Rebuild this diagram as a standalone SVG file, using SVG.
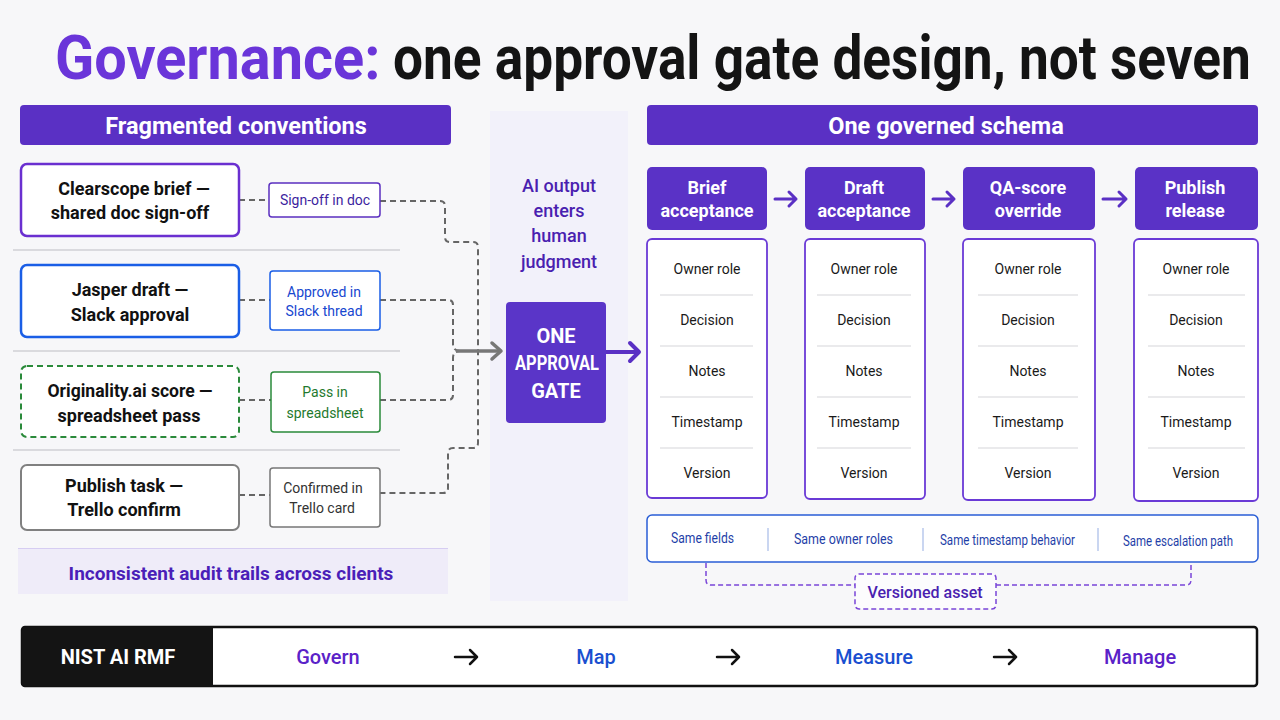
<svg xmlns="http://www.w3.org/2000/svg" width="1280" height="720" viewBox="0 0 1280 720">
<defs>
<style>
.hdr{fill:#5a30c4}
.hdrt{font-family:Roboto,"Liberation Sans",sans-serif;font-weight:700;font-size:23.5px;fill:#fff;text-anchor:middle}
.nt{font-family:Roboto,"Liberation Sans",sans-serif;font-weight:700;font-size:18px;fill:#111;text-anchor:middle}
.tg{font-family:Roboto,"Liberation Sans",sans-serif;font-size:14px;text-anchor:middle}
.sep{stroke:#d0d0d4;stroke-width:1.5}
.dash{fill:none;stroke:#666;stroke-width:2;stroke-dasharray:6 4}
.stage{fill:#5a32c6}
.st{font-family:Roboto,"Liberation Sans",sans-serif;font-weight:700;font-size:18px;fill:#fff;text-anchor:middle}
.card{fill:#fff;stroke:#6a3ad6;stroke-width:1.8}
.ft{font-family:Roboto,"Liberation Sans",sans-serif;font-size:14px;fill:#1a1a1a;text-anchor:middle}
.fs{stroke:#d6d6da;stroke-width:1.2}
.parr{fill:none;stroke:#5a30c4;stroke-width:3;stroke-linecap:round;stroke-linejoin:round}
.sm{font-family:Roboto,"Liberation Sans",sans-serif;font-size:15px;fill:#1f3fa8}
.rmf{font-family:Roboto,"Liberation Sans",sans-serif;font-weight:500;font-size:20px;text-anchor:middle}
.ra{fill:none;stroke:#111;stroke-width:2.5;stroke-linecap:round;stroke-linejoin:round}
</style>
</defs>
<rect width="1280" height="720" fill="#f7f7f9"/>

<!-- title -->
<g id="title" font-family="Roboto,'Liberation Sans',sans-serif" font-weight="700" font-size="62">
<text transform="translate(55,79) scale(0.93,1)" fill="#6a35d9">Governance:</text>
<text transform="translate(393,79) scale(0.858,1)" fill="#141414">one approval gate design, not seven</text>
</g>

<!-- middle band -->
<rect x="490" y="111" width="138" height="490" fill="#f2f1fa"/>

<!-- headers -->
<g id="hdr-left">
<rect class="hdr" x="20" y="105" width="431" height="40" rx="4"/>
<text class="hdrt" x="236" y="134">Fragmented conventions</text>
</g>
<g id="hdr-right">
<rect class="hdr" x="647" y="105" width="611" height="40" rx="4"/>
<text class="hdrt" x="946" y="134">One governed schema</text>
</g>

<!-- separators -->
<line class="sep" x1="13" y1="250" x2="400" y2="250"/>
<line class="sep" x1="13" y1="351" x2="400" y2="351"/>
<line class="sep" x1="13" y1="450" x2="400" y2="450"/>

<!-- connectors -->
<g id="connectors">
<path class="dash" d="M239,200 H269"/>
<path class="dash" d="M239,300 H270"/>
<path class="dash" d="M239,400 H271"/>
<path class="dash" d="M239,495 H270"/>
<path class="dash" d="M380,201 H440 Q445,201 445,206 V237 Q445,242 450,242 H473 Q478,242 478,247 V443 Q478,448 473,448 H453 Q448,448 448,453 V488 Q448,493 443,493 H380"/>
<path class="dash" d="M380,300 H448 Q453,300 453,305 V344 Q453,351 460,351"/>
<path class="dash" d="M380,400 H448 Q453,400 453,395 V358 Q453,351 460,351"/>
<path d="M456,351 H500" fill="none" stroke="#777" stroke-width="3.5"/>
<path d="M492,343 L501,351 L492,359" fill="none" stroke="#777" stroke-width="3.5" stroke-linecap="round" stroke-linejoin="round"/>
<path d="M606,352 H638" fill="none" stroke="#5a30c4" stroke-width="4"/>
<path d="M630,343 L639,352 L630,361" fill="none" stroke="#5a30c4" stroke-width="4" stroke-linecap="round" stroke-linejoin="round"/>
<path class="parr" d="M775,199 H796 M789,192 L796,199 L789,206"/>
<path class="parr" d="M933,199 H954 M947,192 L954,199 L947,206"/>
<path class="parr" d="M1103,199 H1126 M1119,192 L1126,199 L1119,206"/>
<path fill="none" stroke="#7a45d8" stroke-width="1.5" stroke-dasharray="5 3" d="M706,563 V580 Q706,585 711,585 H855 M996,585 H1186 Q1191,585 1191,580 V563"/>
</g>

<!-- left nodes -->
<g id="n-clearscope">
<rect x="21" y="164" width="218" height="72" rx="6" fill="#fff" stroke="#6a2fd0" stroke-width="2.5"/>
<text class="nt" x="134" y="195">Clearscope brief —</text>
<text class="nt" x="130" y="219">shared doc sign-off</text>
</g>
<g id="t-clearscope">
<rect x="269" y="183" width="111" height="34" rx="3" fill="#fff" stroke="#5b2fc0" stroke-width="1.5"/>
<text class="tg" x="325" y="205" fill="#3d1fa0">Sign-off in doc</text>
</g>
<g id="n-jasper">
<rect x="21" y="265" width="218" height="72" rx="6" fill="#fff" stroke="#1a5ee6" stroke-width="2.5"/>
<text class="nt" x="130" y="296">Jasper draft —</text>
<text class="nt" x="130" y="321">Slack approval</text>
</g>
<g id="t-jasper">
<rect x="270" y="271" width="110" height="59" rx="3" fill="#fff" stroke="#1a5ee6" stroke-width="1.5"/>
<text class="tg" x="324" y="297" fill="#1747d0">Approved in</text>
<text class="tg" x="324" y="316" fill="#1747d0">Slack thread</text>
</g>
<g id="n-originality">
<rect x="21" y="366" width="218" height="71" rx="6" fill="#fff" stroke="#2a8a3a" stroke-width="2" stroke-dasharray="6 4"/>
<text class="nt" x="130" y="397" textLength="165" lengthAdjust="spacingAndGlyphs">Originality.ai score —</text>
<text class="nt" x="129" y="422">spreadsheet pass</text>
</g>
<g id="t-originality">
<rect x="271" y="372" width="109" height="60" rx="3" fill="#fff" stroke="#2a8a3a" stroke-width="1.5"/>
<text class="tg" x="325" y="397" fill="#1f7a2e">Pass in</text>
<text class="tg" x="325" y="418" fill="#1f7a2e">spreadsheet</text>
</g>
<g id="n-publish">
<rect x="21" y="465" width="218" height="65" rx="6" fill="#fff" stroke="#808080" stroke-width="2"/>
<text class="nt" x="124" y="492">Publish task —</text>
<text class="nt" x="124" y="516">Trello confirm</text>
</g>
<g id="t-publish">
<rect x="270" y="468" width="110" height="59" rx="3" fill="#fff" stroke="#777" stroke-width="1.5"/>
<text class="tg" x="323" y="493" fill="#333">Confirmed in</text>
<text class="tg" x="322" y="513" fill="#333">Trello card</text>
</g>
<g id="audit">
<rect x="18" y="548" width="430" height="46" fill="#efecf9"/>
<line x1="18" y1="548.5" x2="448" y2="548.5" stroke="#d6cdf2" stroke-width="1"/>
<text x="231" y="580" font-family="Roboto,'Liberation Sans',sans-serif" font-weight="700" font-size="19" fill="#4a1fb8" text-anchor="middle">Inconsistent audit trails across clients</text>
</g>

<!-- middle -->
<g id="ai-label" font-family="Roboto,'Liberation Sans',sans-serif" font-weight="500" font-size="18" fill="#4a1fb0" text-anchor="middle">
<text x="559" y="192">AI output</text>
<text x="559" y="217">enters</text>
<text x="559" y="242">human</text>
<text x="559" y="268">judgment</text>
</g>
<g id="gate">
<rect x="506" y="302" width="100" height="121" rx="4" fill="#5a35c8"/>
<g font-family="Roboto,'Liberation Sans',sans-serif" font-weight="700" font-size="20" fill="#fff" text-anchor="middle">
<text x="556" y="343">ONE</text>
<text x="557" y="370" textLength="84" lengthAdjust="spacingAndGlyphs">APPROVAL</text>
<text x="556" y="398">GATE</text>
</g>
</g>

<!-- stages -->
<g id="s-brief">
<rect class="stage" x="647" y="167" width="120" height="63" rx="5"/>
<text class="st" x="707" y="194">Brief</text>
<text class="st" x="707" y="217">acceptance</text>
</g>
<g id="s-draft">
<rect class="stage" x="805" y="167" width="120" height="63" rx="5"/>
<text class="st" x="864" y="194">Draft</text>
<text class="st" x="864" y="217">acceptance</text>
</g>
<g id="s-qa">
<rect class="stage" x="963" y="167" width="132" height="63" rx="5"/>
<text class="st" x="1028" y="194">QA-score</text>
<text class="st" x="1028" y="217">override</text>
</g>
<g id="s-publish">
<rect class="stage" x="1135" y="167" width="123" height="63" rx="5"/>
<text class="st" x="1195" y="194">Publish</text>
<text class="st" x="1195" y="217">release</text>
</g>

<!-- cards -->
<g id="c-brief">
<rect class="card" x="647" y="239" width="120" height="259" rx="5"/>
<line class="fs" x1="660" y1="295" x2="753" y2="295"/><line class="fs" x1="660" y1="346" x2="753" y2="346"/><line class="fs" x1="660" y1="397" x2="753" y2="397"/><line class="fs" x1="660" y1="448" x2="753" y2="448"/>
<text class="ft" x="707" y="274">Owner role</text><text class="ft" x="707" y="325">Decision</text><text class="ft" x="707" y="376">Notes</text><text class="ft" x="707" y="427">Timestamp</text><text class="ft" x="707" y="478">Version</text>
</g>
<g id="c-draft">
<rect class="card" x="805" y="239" width="120" height="260" rx="5"/>
<line class="fs" x1="817" y1="295" x2="911" y2="295"/><line class="fs" x1="817" y1="346" x2="911" y2="346"/><line class="fs" x1="817" y1="397" x2="911" y2="397"/><line class="fs" x1="817" y1="448" x2="911" y2="448"/>
<text class="ft" x="864" y="274">Owner role</text><text class="ft" x="864" y="325">Decision</text><text class="ft" x="864" y="376">Notes</text><text class="ft" x="864" y="427">Timestamp</text><text class="ft" x="864" y="478">Version</text>
</g>
<g id="c-qa">
<rect class="card" x="963" y="239" width="132" height="261" rx="5"/>
<line class="fs" x1="978" y1="295" x2="1078" y2="295"/><line class="fs" x1="978" y1="346" x2="1078" y2="346"/><line class="fs" x1="978" y1="397" x2="1078" y2="397"/><line class="fs" x1="978" y1="448" x2="1078" y2="448"/>
<text class="ft" x="1028" y="274">Owner role</text><text class="ft" x="1028" y="325">Decision</text><text class="ft" x="1028" y="376">Notes</text><text class="ft" x="1028" y="427">Timestamp</text><text class="ft" x="1028" y="478">Version</text>
</g>
<g id="c-publish">
<rect class="card" x="1134" y="239" width="124" height="262" rx="5"/>
<line class="fs" x1="1148" y1="295" x2="1245" y2="295"/><line class="fs" x1="1148" y1="346" x2="1245" y2="346"/><line class="fs" x1="1148" y1="397" x2="1245" y2="397"/><line class="fs" x1="1148" y1="448" x2="1245" y2="448"/>
<text class="ft" x="1196" y="274">Owner role</text><text class="ft" x="1196" y="325">Decision</text><text class="ft" x="1196" y="376">Notes</text><text class="ft" x="1196" y="427">Timestamp</text><text class="ft" x="1196" y="478">Version</text>
</g>

<!-- summary -->
<g id="summary">
<rect x="647" y="515" width="611" height="47" rx="5" fill="#fff" stroke="#2a5ed6" stroke-width="1.5"/>
<line x1="768" y1="528" x2="768" y2="551" stroke="#b8c8ec" stroke-width="1.5"/>
<line x1="923" y1="528" x2="923" y2="551" stroke="#b8c8ec" stroke-width="1.5"/>
<line x1="1098" y1="528" x2="1098" y2="551" stroke="#b8c8ec" stroke-width="1.5"/>
<text class="sm" x="671" y="543" textLength="63" lengthAdjust="spacingAndGlyphs">Same fields</text>
<text class="sm" x="794" y="544" textLength="99" lengthAdjust="spacingAndGlyphs">Same owner roles</text>
<text class="sm" x="940" y="545" textLength="135" lengthAdjust="spacingAndGlyphs">Same timestamp behavior</text>
<text class="sm" x="1123" y="546" textLength="110" lengthAdjust="spacingAndGlyphs">Same escalation path</text>
</g>
<g id="versioned">
<rect x="855" y="574" width="141" height="35" rx="4" fill="#fff" fill-opacity="0.6" stroke="#7a45d8" stroke-width="1.5" stroke-dasharray="5 3"/>
<text x="925" y="598" font-family="Roboto,'Liberation Sans',sans-serif" font-weight="500" font-size="16" fill="#4a1fb0" text-anchor="middle">Versioned asset</text>
</g>

<!-- NIST bar -->
<g id="nist">
<rect x="22" y="627" width="1235" height="59" rx="3" fill="#fff" stroke="#111" stroke-width="2.5"/>
<path d="M25,627 H213 V686 H25 Q22,686 22,683 V630 Q22,627 25,627 Z" fill="#141414"/>
<text x="118" y="664" font-family="Roboto,'Liberation Sans',sans-serif" font-weight="700" font-size="20" fill="#fff" text-anchor="middle">NIST AI RMF</text>
<text class="rmf" x="328" y="664" fill="#5a22c8">Govern</text>
<text class="rmf" x="596" y="664" fill="#1a4fd0">Map</text>
<text class="rmf" x="874" y="664" fill="#1a4fd0">Measure</text>
<text class="rmf" x="1140" y="664" fill="#5a22c8">Manage</text>
<path class="ra" d="M455,657 H477 M470,650 L477,657 L470,664"/>
<path class="ra" d="M717,657 H739 M732,650 L739,657 L732,664"/>
<path class="ra" d="M994,657 H1016 M1009,650 L1016,657 L1009,664"/>
</g>
</svg>
